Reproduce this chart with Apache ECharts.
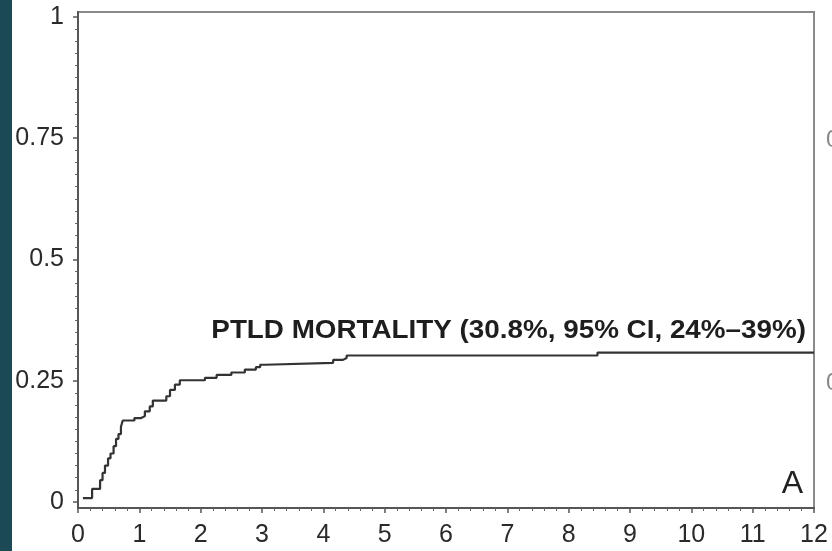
<!DOCTYPE html>
<html>
<head>
<meta charset="utf-8">
<script src="https://cdn.jsdelivr.net/npm/echarts@6/dist/echarts.min.js"></script>
<style>
html,body{margin:0;padding:0;background:#fff;}
#chart{width:832px;height:551px;}
</style>
</head>
<body>
<div id="chart"></div>
<script>
// Step times (years) and cumulative incidence values
var times  = [0.08, 0.23, 0.36, 0.40, 0.44, 0.49, 0.53, 0.58, 0.62, 0.66, 0.70, 0.73, 0.92, 1.03, 1.09, 1.17, 1.22, 1.44, 1.50, 1.58, 1.66, 2.07, 2.26, 2.50, 2.72, 2.90, 2.97, 3.05, 4.16, 4.32, 4.38, 8.47, 12.0];
var values = [0.008, 0.027, 0.045, 0.060, 0.075, 0.090, 0.100, 0.115, 0.130, 0.140, 0.155, 0.168, 0.173, 0.177, 0.187, 0.197, 0.209, 0.218, 0.231, 0.242, 0.251, 0.256, 0.262, 0.267, 0.273, 0.278, 0.283, 0.287, 0.293, 0.297, 0.302, 0.308, 0.308];
var xTicks = [0,1,2,3,4,5,6,7,8,9,10,11,12];
var yMajor = [0, 0.25, 0.5, 0.75, 1];
var yMinorStep = 0.025;
var annotation = 'PTLD MORTALITY (30.8%, 95% CI, 24%\u201339%)';
var panelLetter = 'A';

var yMinor = [];
for (var k = 0; k <= 40; k++) {
  var v = +(k * yMinorStep).toFixed(4);
  if (yMajor.indexOf(v) < 0) yMinor.push(v);
}
var data = times.map(function (t, i) { return [t, values[i]]; });

var chart = echarts.init(document.getElementById('chart'));
var font = '"Liberation Sans", Arial, sans-serif';
var yMin = -0.0124, yMax = 1.0103;
chart.setOption({
  animation: false,
  backgroundColor: '#ffffff',
  grid: { left: 78, right: 18, top: 12, bottom: 43, show: true, borderColor: '#8a8a8a', borderWidth: 2, backgroundColor: 'transparent' },
  xAxis: {
    type: 'value', min: 0, max: 12, interval: 1,
    axisLine: { show: true, onZero: false, lineStyle: { color: '#555', width: 2 } },
    axisTick: { show: true, length: 5, lineStyle: { color: '#555', width: 1.5 } },
    minorTick: { show: true, splitNumber: 5, length: 3, lineStyle: { color: '#666', width: 1 } },
    axisLabel: { fontFamily: font, fontSize: 25, color: '#2a2a2a', margin: 15,
      formatter: function (v) { return xTicks.indexOf(v) >= 0 ? String(v) : ''; } },
    splitLine: { show: false }
  },
  yAxis: [{
    type: 'value', min: yMin, max: yMax,
    axisLine: { show: true, onZero: false, lineStyle: { color: '#555', width: 2 } },
    axisTick: { show: true, length: 5, customValues: yMajor, lineStyle: { color: '#555', width: 1.5 } },
    axisLabel: { customValues: yMajor, fontFamily: font, fontSize: 25, color: '#2a2a2a', margin: 14,
      formatter: function (v) { return String(v); } },
    splitLine: { show: false }
  }, {
    type: 'value', min: yMin, max: yMax, position: 'left',
    axisLine: { show: false },
    axisTick: { show: true, length: 3, customValues: yMinor, lineStyle: { color: '#666', width: 1 } },
    axisLabel: { show: false },
    splitLine: { show: false }
  }],
  series: [{
    type: 'line', step: 'end', data: data, yAxisIndex: 0,
    showSymbol: false, symbol: 'none',
    lineStyle: { color: '#333', width: 2.2 }
  }],
  graphic: [
    { type: 'rect', left: 0, top: 0, shape: { width: 12, height: 551 }, style: { fill: '#1b4a55' }, z: 100 },
    { type: 'text', x: 806, y: 331, style: { text: annotation, font: 'bold 26px ' + font, fill: '#1e1e1e', textAlign: 'right', textVerticalAlign: 'middle' }, scaleX: 1.07, originX: 0, originY: 0, z: 100 },
    { type: 'text', x: 803, y: 484, style: { text: panelLetter, font: '32px ' + font, fill: '#222', textAlign: 'right', textVerticalAlign: 'middle' }, z: 100 },
    { type: 'text', x: 826, y: 140, style: { text: '0', font: '24px ' + font, fill: '#888', textAlign: 'left', textVerticalAlign: 'middle' }, z: 100 },
    { type: 'text', x: 826, y: 383, style: { text: '0', font: '24px ' + font, fill: '#888', textAlign: 'left', textVerticalAlign: 'middle' }, z: 100 }
  ]
});
</script>
</body>
</html>
